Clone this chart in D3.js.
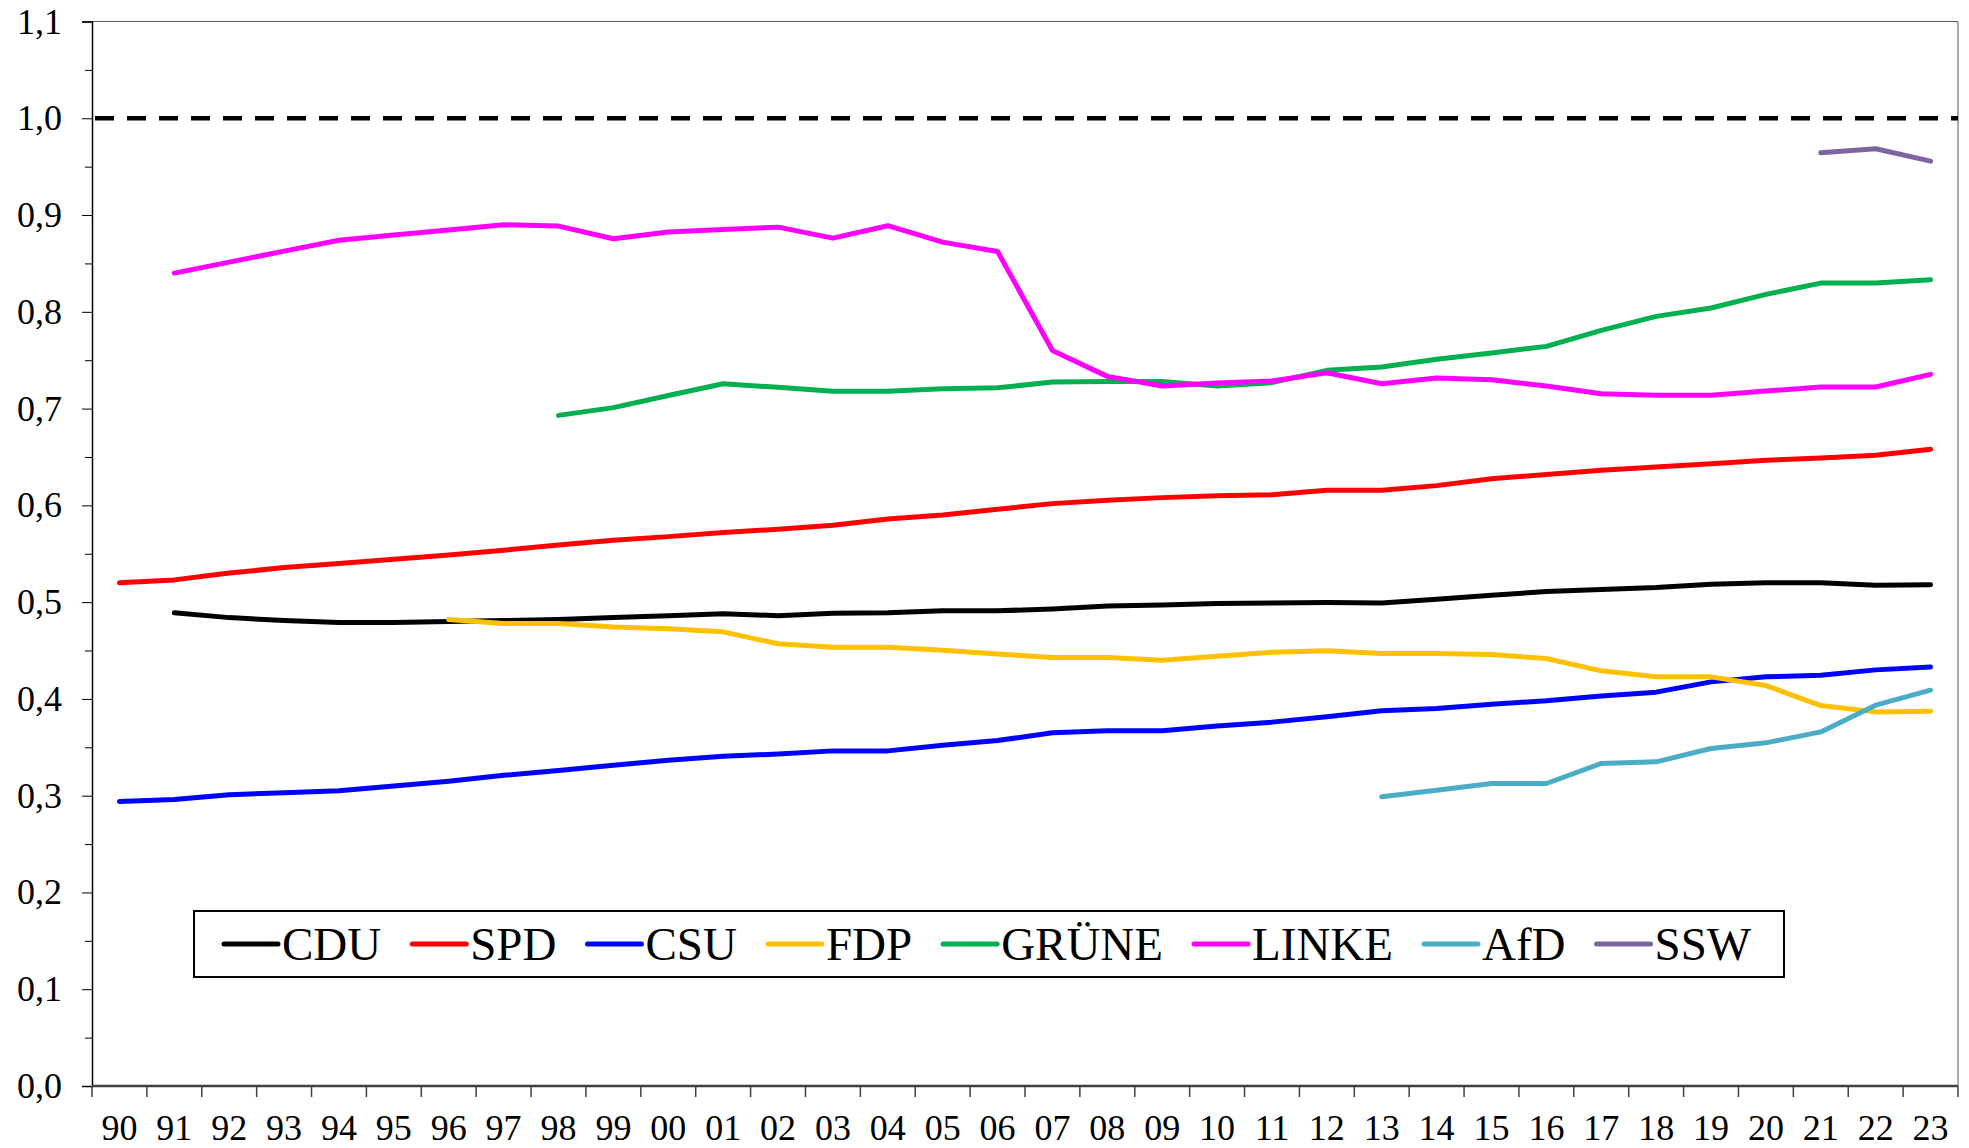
<!DOCTYPE html>
<html>
<head>
<meta charset="utf-8">
<script src="https://cdn.jsdelivr.net/npm/d3@7"></script>
<style>
  body { margin: 0; background: #ffffff; }
  text { font-family: "Liberation Serif", "Times New Roman", serif; fill: #000; }
</style>
</head>
<body>
<div id="chart"></div>
<script>
// category labels (years)
var years = ["90","91","92","93","94","95","96","97","98","99",
  "00","01","02","03","04","05","06","07","08","09",
  "10","11","12","13","14","15","16","17","18","19",
  "20","21","22","23"];

// series values, one per year, null = no data
var cdu = [null, 0.489, 0.484, 0.481, 0.479, 0.479, 0.480, 0.481, 0.482, 0.484,
  0.486, 0.488, 0.486, 0.4885, 0.489, 0.491, 0.491, 0.493, 0.496, 0.497,
  0.4985, 0.499, 0.4996, 0.499, 0.503, 0.507, 0.511, 0.513, 0.515, 0.5185,
  0.520, 0.520, 0.5175, 0.518];
var spd = [0.520, 0.523, 0.530, 0.5357, 0.540, 0.5443, 0.5488, 0.5536, 0.5591, 0.5639,
  0.5677, 0.5719, 0.5753, 0.5794, 0.586, 0.590, 0.596, 0.6018, 0.6052, 0.608,
  0.610, 0.611, 0.6156, 0.6156, 0.6204, 0.6276, 0.6318, 0.6362, 0.6397, 0.6431,
  0.6466, 0.649, 0.6517, 0.658];
var csu = [0.294, 0.296, 0.301, 0.303, 0.305, 0.310, 0.315, 0.321, 0.326, 0.3315,
  0.3367, 0.3408, 0.343, 0.3463, 0.3463, 0.352, 0.357, 0.365, 0.367, 0.367,
  0.372, 0.376, 0.3815, 0.3877, 0.390, 0.3945, 0.398, 0.403, 0.407, 0.4176,
  0.4228, 0.4245, 0.430, 0.433];
var fdp = [null, null, null, null, null, null, 0.482, 0.478, 0.478, 0.4744,
  0.4724, 0.4693, 0.457, 0.4534, 0.4534, 0.4503, 0.4465, 0.4427, 0.4427, 0.440,
  0.4441, 0.4483, 0.4497, 0.4469, 0.4469, 0.4458, 0.4417, 0.429, 0.4228, 0.4228,
  0.4138, 0.3931, 0.3866, 0.3873];
var gruene = [null, null, null, null, null, null, null, null, 0.693, 0.701,
  0.7135, 0.7257, 0.722, 0.718, 0.718, 0.7206, 0.7215, 0.7274, 0.728, 0.728,
  0.7233, 0.7268, 0.7395, 0.743, 0.7509, 0.7574, 0.7643, 0.7808, 0.7953, 0.8039,
  0.818, 0.8297, 0.8297, 0.8332];
var linke = [null, 0.840, 0.8514, 0.8627, 0.874, 0.8793, 0.8846, 0.890, 0.8886, 0.8755,
  0.8824, 0.885, 0.8875, 0.8762, 0.889, 0.872, 0.8624, 0.760, 0.7333, 0.7233,
  0.7264, 0.7285, 0.7371, 0.7257, 0.7316, 0.7299, 0.7233, 0.7154, 0.7137, 0.7137,
  0.7181, 0.7223, 0.7223, 0.7354];
var afd = [null, null, null, null, null, null, null, null, null, null,
  null, null, null, null, null, null, null, null, null, null,
  null, null, null, 0.299, 0.3057, 0.3126, 0.3126, 0.3333, 0.335, 0.3487,
  0.3546, 0.3659, 0.3935, 0.409];
var ssw = [null, null, null, null, null, null, null, null, null, null,
  null, null, null, null, null, null, null, null, null, null,
  null, null, null, null, null, null, null, null, null, null,
  null, 0.9643, 0.9685, 0.9557];

var seriesNames = ["CDU", "SPD", "CSU", "FDP", "GRÜNE", "LINKE", "AfD", "SSW"];
var seriesValues = [cdu, spd, csu, fdp, gruene, linke, afd, ssw];
var seriesColors = ["#000000", "#ff0000", "#0000ff", "#ffc000", "#00b050", "#ff00ff", "#4bacc6", "#8064a2"];

// y axis ticks
var yTicks = [0, 0.1, 0.2, 0.3, 0.4, 0.5, 0.6, 0.7, 0.8, 0.9, 1.0, 1.1];
var yMinorTicks = [0.05, 0.15, 0.25, 0.35, 0.45, 0.55, 0.65, 0.75, 0.85, 0.95, 1.05];
var refLine = 1.0;

var svgWidth = 1969;
var svgHeight = 1148;

var margin = { top: 21.5, right: 11, bottom: 62, left: 92 };
var width = svgWidth - margin.left - margin.right;
var height = svgHeight - margin.top - margin.bottom;

var svg = d3.select("#chart")
  .append("svg")
  .attr("width", svgWidth)
  .attr("height", svgHeight);

var chartGroup = svg.append("g")
  .attr("transform", `translate(${margin.left}, ${margin.top})`);

var xScale = d3.scaleBand()
  .domain(years)
  .range([0, width])
  .padding(0);

var yScale = d3.scaleLinear()
  .domain([0, 1.1])
  .range([height, 0]);

// plot frame (top and right)
chartGroup.append("path")
  .attr("d", `M0,0H${width}V${height}`)
  .attr("fill", "none")
  .attr("stroke", "#595959")
  .attr("stroke-width", 1);

// y axis, major and minor ticks
var leftAxis = d3.axisLeft(yScale)
  .tickValues(yTicks)
  .tickSize(10)
  .tickPadding(20)
  .tickFormat(d => d.toFixed(1).replace(".", ","));

var yAxis = chartGroup.append("g").call(leftAxis);
yAxis.select(".domain").attr("stroke", "#000").attr("stroke-width", 1.5);
yAxis.selectAll(".tick line").attr("stroke", "#000");
yAxis.selectAll("text").style("font-size", "36px");

var yMinor = chartGroup.append("g")
  .call(d3.axisLeft(yScale).tickValues(yMinorTicks).tickSize(7).tickFormat(""));
yMinor.select(".domain").remove();
yMinor.selectAll(".tick line").attr("stroke", "#000");

// x axis: labels at band centres, ticks on band edges
var bottomAxis = d3.axisBottom(xScale)
  .tickSize(0)
  .tickPadding(28);

var xAxis = chartGroup.append("g")
  .attr("transform", `translate(0, ${height})`)
  .call(bottomAxis);
xAxis.select(".domain").remove();
xAxis.selectAll("text").style("font-size", "36px");

var xEdges = years.map(d => xScale(d)).concat([width]);
chartGroup.append("g")
  .selectAll("line")
  .data(xEdges)
  .enter()
  .append("line")
  .attr("x1", d => d)
  .attr("x2", d => d)
  .attr("y1", height)
  .attr("y2", height + 11)
  .attr("stroke", "#404040")
  .attr("stroke-width", 1.5);

chartGroup.append("line")
  .attr("x1", 0)
  .attr("x2", width)
  .attr("y1", height)
  .attr("y2", height)
  .attr("stroke", "#404040")
  .attr("stroke-width", 2.5);

// dashed reference line at 1,0
chartGroup.append("line")
  .attr("x1", 3)
  .attr("x2", width)
  .attr("y1", yScale(refLine))
  .attr("y2", yScale(refLine))
  .attr("stroke", "#000")
  .attr("stroke-width", 4.5)
  .attr("stroke-dasharray", "19,13");

// lines
var line = d3.line()
  .defined(d => d.value !== null)
  .x(d => xScale(d.year) + xScale.bandwidth() / 2)
  .y(d => yScale(d.value));

seriesValues.forEach(function(values, i) {
  var points = years.map((y, j) => ({ year: y, value: values[j] }));
  chartGroup.append("path")
    .datum(points)
    .attr("d", line)
    .attr("fill", "none")
    .attr("stroke", seriesColors[i])
    .attr("stroke-width", 5)
    .attr("stroke-linejoin", "round")
    .attr("stroke-linecap", "round");
});

// legend
var legend = svg.append("g");

legend.append("rect")
  .attr("x", 194)
  .attr("y", 911)
  .attr("width", 1590)
  .attr("height", 66)
  .attr("fill", "#fff")
  .attr("stroke", "#000")
  .attr("stroke-width", 2);

var legendX = 224;
seriesNames.forEach(function(name, i) {
  legend.append("line")
    .attr("x1", legendX)
    .attr("x2", legendX + 54)
    .attr("y1", 944)
    .attr("y2", 944)
    .attr("stroke", seriesColors[i])
    .attr("stroke-width", 5)
    .attr("stroke-linecap", "round");

  var label = legend.append("text")
    .attr("x", legendX + 58)
    .attr("y", 960)
    .style("font-size", "47px")
    .text(name);

  legendX = legendX + 58 + label.node().getComputedTextLength() + 31;
});
</script>
</body>
</html>
